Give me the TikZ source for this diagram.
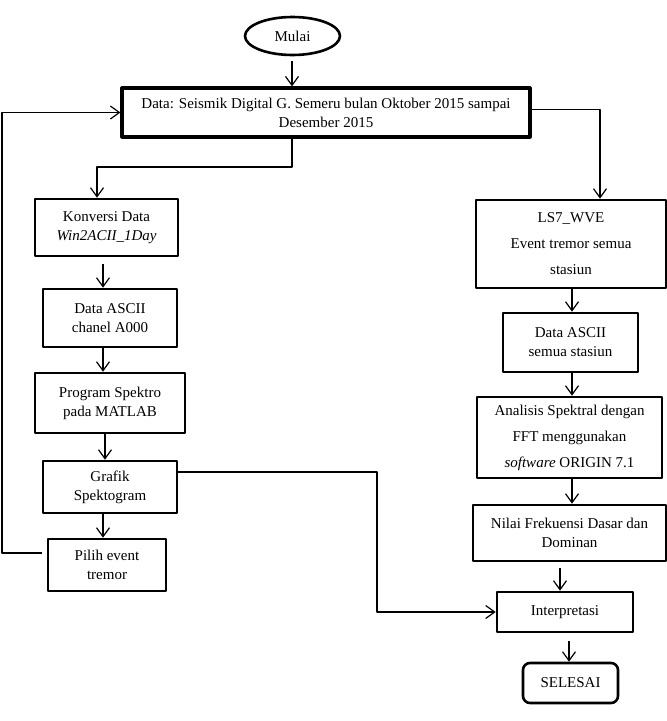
\documentclass[tikz,border=0pt]{standalone}
\usepackage{fontspec}
\setmainfont{Liberation Serif}
\usetikzlibrary{arrows.meta,shapes.geometric}
\begin{document}
\begin{tikzpicture}[x=1pt, y=-1pt, line join=round, >={Straight Barb[length=9pt,width=13pt]},
	font=\fontsize{15}{19}\selectfont,
	box/.style={draw, line width=2.6pt, align=center, inner sep=0pt},
	wide/.style={font=\fontsize{15}{26}\selectfont},
	arr/.style={->, line width=1.2pt}]
	\useasboundingbox (0,0) rectangle (667,721);
	\coordinate (j1) at (292,167);
	\coordinate (fb) at (2,553);
	\coordinate (j2) at (377,472);
	\node[box, ellipse, minimum width=95pt, minimum height=38pt] (mulai) at (292.5,36) {Mulai};
	\node[box, line width=3.2pt, minimum width=408pt, minimum height=49pt] (data) at (326,112.5) {Data: Seismik Digital G. Semeru bulan Oktober 2015 sampai\\Desember 2015};
	\node[box, minimum width=143pt, minimum height=57pt] (konv) at (106.5,227.5) {Konversi Data\\\textit{Win2ACII\_1Day}};
	\node[box, minimum width=134pt, minimum height=58pt] (ascii) at (110,318) {Data ASCII\\chanel A000};
	\node[box, minimum width=150pt, minimum height=60pt] (prog) at (110,403) {Program Spektro\\pada MATLAB};
	\node[box, minimum width=134pt, minimum height=52pt] (grafik) at (110,487) {Grafik\\Spektogram};
	\node[box, minimum width=118pt, minimum height=52pt] (pilih) at (107,565) {Pilih event\\tremor};
	\node[box, wide, minimum width=190pt, minimum height=88pt] (ls7) at (571,244) {LS7\_WVE\\Event tremor semua\\stasiun};
	\node[box, minimum width=135pt, minimum height=59pt] (asciis) at (570.5,342.5) {Data ASCII\\semua stasiun};
	\node[box, wide, minimum width=185pt, minimum height=81pt] (fft) at (569.5,437.5) {Analisis Spektral dengan\\FFT menggunakan\\\textit{software} ORIGIN 7.1};
	\node[box, minimum width=193pt, minimum height=56pt] (nilai) at (569.5,533) {Nilai Frekuensi Dasar dan\\Dominan};
	\node[box, minimum width=136pt, minimum height=40pt] (interp) at (565,612) {Interpretasi};
	\node[box, rounded corners=7pt, minimum width=95pt, minimum height=40pt] (selesai) at (570.5,683) {SELESAI};
	\draw[arr, shorten <=5pt] ([xshift=-0.5pt]mulai.south) -- ([xshift=-0.5pt]mulai.south |- data.north);
	\draw[arr] (data.south -| j1) -- (j1) -| ([xshift=-9.5pt]konv.north);
	\draw[arr] ([yshift=3pt]data.east) -| ([xshift=29pt]ls7.north);
	\draw[arr, shorten <=5pt] ([yshift=12pt]pilih.west) -- (fb) |- (data.west);
	\draw[arr, shorten <=7pt] ([xshift=-3.5pt]konv.south) -- ([xshift=-3.5pt]konv.south |- ascii.north);
	\draw[arr] ([xshift=-7pt]ascii.south) -- ([xshift=-7pt]ascii.south |- prog.north);
	\draw[arr] ([xshift=-5pt]prog.south) -- ([xshift=-5pt]prog.south |- grafik.north);
	\draw[arr] ([xshift=-7pt]grafik.south) -- ([xshift=-7pt]grafik.south |- pilih.north);
	\draw[arr] ([yshift=15pt]grafik.east) -| (j2) |- (interp.west);
	\draw[arr] ([xshift=1pt]ls7.south) -- ([xshift=1pt]ls7.south |- asciis.north);
	\draw[arr] ([xshift=1.5pt]asciis.south) -- ([xshift=1.5pt]asciis.south |- fft.north);
	\draw[arr] ([xshift=2.5pt]fft.south) -- ([xshift=2.5pt]fft.south |- nilai.north);
	\draw[arr, shorten <=6pt] ([xshift=-9.5pt]nilai.south) -- ([xshift=-9.5pt]nilai.south |- interp.north);
	\draw[arr, shorten <=8pt] ([xshift=4pt]interp.south) -- ([xshift=4pt]interp.south |- selesai.north);
\end{tikzpicture}
\end{document}
